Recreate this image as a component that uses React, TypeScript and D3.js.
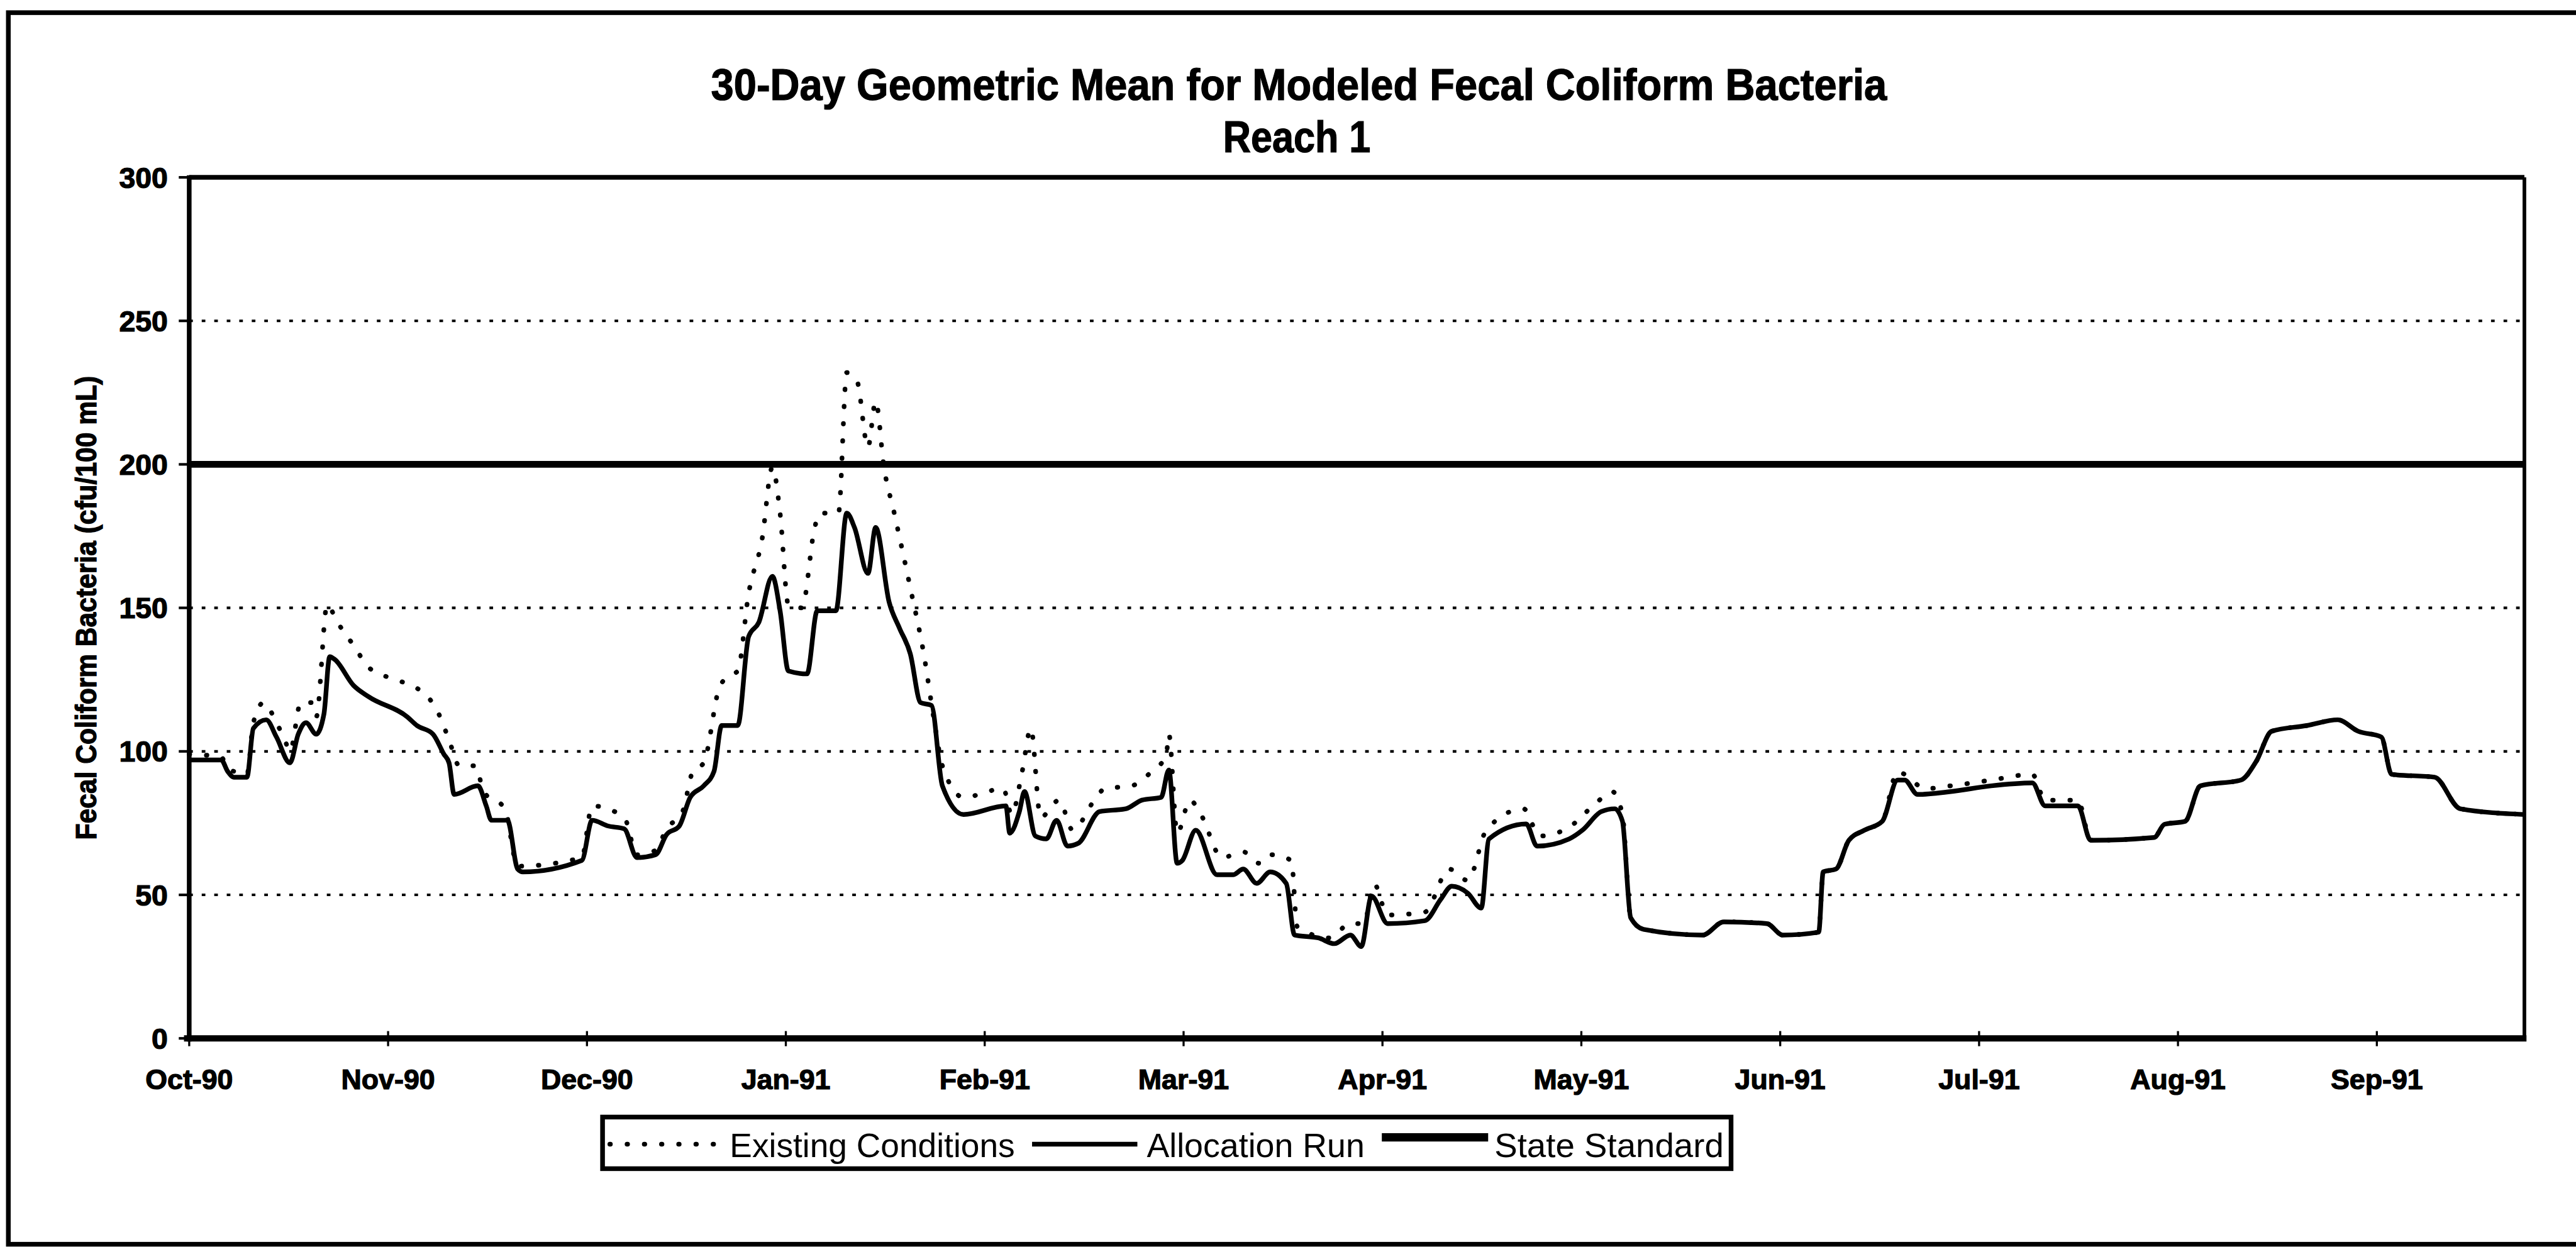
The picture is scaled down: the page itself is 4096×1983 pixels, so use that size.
import React from 'react'
import * as d3 from 'd3'

// x positions are days after 1 Oct 1990; the source axis puts a tick every 31 days
const startDate = new Date(1990, 9, 1)
const lastDay = 364
const tickDays = [0, 31, 62, 93, 124, 155, 186, 217, 248, 279, 310, 341]
const yTicks = [0, 50, 100, 150, 200, 250, 300]
const gridValues = [50, 100, 150, 250]
const standardValue = 200

const existingDays = [
  0, 5, 6, 7, 9, 10, 11.6, 13.6, 14.9, 15.7, 17.4, 19, 19.8, 21.5, 23.1, 25.6, 28.1, 32.2, 35.5, 37.2,
  38.8, 40.5, 42.1, 44.6, 45.9, 49.2, 51.2, 61.2, 62.8, 67.8, 69.8, 72.7, 74.4, 76.9, 78.5, 80.2, 82.6,
  83.9, 85.5, 87.2, 89.3, 90.9, 92.1, 93.4, 95.5, 97.5, 98.3, 101.2, 102.5, 104.1, 105.8, 107, 108.3,
  109.9, 112.4, 114.5, 116.1, 117.4, 120.7, 126.9, 128.2, 129.8, 131.2, 132.7, 135.6, 137.7, 141.1,
  142.7, 146.9, 149.8, 152.3, 152.7, 154, 156, 157.7, 161, 164.3, 166.8, 168.5, 171.8, 172.7, 177.7,
  181, 183.1, 184.7, 186.8, 192.6, 196.4, 199.3, 202.2, 208, 210.5, 215.1, 219.3, 221.8, 223.4, 224.7,
  226.7, 235.9, 239.2, 245.9, 248.4, 254, 254.7, 256.7, 258.7, 261.1, 263.9, 266.3, 267.4, 270.6,
  274.6, 280.9, 287.3, 289.3, 294.4, 296.4, 306.3, 307.9, 311.1, 313.5, 319.8, 322.2, 324.6, 330.1,
  334.9, 338.1, 341.7, 343.3, 350, 354, 364,
]
const existingValues = [
  99, 98, 94, 93, 92, 110, 117, 110, 104, 100, 117, 117, 112, 151, 145, 137, 129, 125, 122, 119,
  113.5, 104, 95, 95, 86, 80, 60, 63, 81, 77, 64, 65.5, 73, 79, 93, 96, 122,
  126, 128, 155, 174, 199, 183, 151, 150, 178, 183, 183, 232, 229, 206, 222, 199,
  183, 157, 134, 111, 95, 84, 87, 78, 92.5, 108, 77, 83, 72.6, 83,
  87, 88, 92.5, 98.7, 106, 71.5, 83, 78, 63, 65, 61, 64, 62, 39, 35,
  40, 40, 53.8, 43, 44, 59, 55, 72.6, 80, 70.5, 73.6, 82, 86, 78, 42,
  38, 36, 40.6, 40, 36, 37, 58, 59, 69, 72.5, 75.6, 93, 92, 87,
  88, 90, 92, 83, 83, 69, 70, 74.6, 75.6, 88, 90, 96.5, 107, 109,
  111, 107, 105, 92, 91, 80, 78,
]

const allocationDays = [
  0, 5, 6, 7, 9, 10, 12, 13.6, 15.7, 17, 18.2, 19.8, 21, 21.9, 22.7, 25.6, 28, 34, 35.5, 38, 39.7,
  40.5, 41.3, 45, 46.3, 47.1, 49.6, 51.2, 52, 61.2, 62.8, 65.3, 67.8, 69.8, 72.7, 74.4, 76.4, 78.1,
  80.2, 81.8, 83, 85.5, 87.2, 88.8, 90.9, 92.1, 93.4, 96.3, 97.9, 100.8, 102.5, 103.7, 105.8, 107,
  109.1, 110.7, 112.4, 114, 115.7, 117.4, 120.7, 127.3, 127.9, 129.4, 130.2, 131.9, 133.6, 135.2,
  136.9, 138.6, 141.9, 146, 148.5, 151.5, 152.7, 154, 154.8, 156.9, 160.2, 162.7, 164.3, 166.4, 168.5,
  171, 172.3, 176, 178.5, 181, 182.7, 184.3, 186.8, 192.6, 195.1, 196.8, 199.3, 201.4, 202.6, 208.4,
  210.1, 215.1, 217.2, 220.1, 222.2, 223.4, 224.7, 226.7, 235.9, 239.2, 245.9, 248.4, 254, 254.7,
  256.7, 258.7, 261.1, 263.9, 266.3, 267.4, 269.4, 274.6, 280.9, 287.3, 289.3, 294.4, 296.4, 306.3,
  307.9, 311.1, 313.5, 319.8, 322.2, 324.6, 330.1, 334.9, 338.1, 341.7, 343.3, 350, 354, 364,
]
const allocationValues = [
  97, 97, 93, 91, 91, 108, 111, 105, 96, 106, 110, 106, 113, 133, 132, 123, 119, 112, 109, 106, 99,
  96, 85, 88, 81, 76, 76, 59, 58, 62, 76, 74, 73, 63, 64, 71, 74, 84,
  88, 93, 109, 109, 140, 145, 161, 149, 128, 127, 149, 149, 183, 178, 162, 178,
  152, 143, 134, 117, 116, 88, 78, 81, 71.5, 79, 86, 70.5, 69.5, 76,
  67, 68, 79, 80, 83, 84, 93.5, 61, 62, 72.5, 57, 57, 59, 54, 58,
  54, 36, 35, 33, 36, 32, 49.6, 40, 41, 48.5, 53, 50.6, 45.4, 69.5, 74.7,
  67, 69.5, 72.6, 79, 80, 75.7, 42, 38, 36, 40.6, 40, 36, 37, 58,
  59, 69, 72.5, 75.6, 90, 90, 85, 86, 88, 89, 81, 81, 69, 70,
  74.6, 75.6, 88, 90, 96.5, 107, 109, 111, 107, 105, 92, 91, 80, 78,
]

const W = 4942
const H = 2392
const font = '"Liberation Sans", Arial, sans-serif'

export default function App() {
  const x = d3.scaleLinear().domain([0, lastDay]).range([363, 4843])
  const y = d3.scaleLinear().domain([0, 300]).range([1992, 340])
  const line = d3
    .line<[number, number]>()
    .x((d) => x(d[0]))
    .y((d) => y(d[1]))
    .curve(d3.curveMonotoneX)
  const flat = d3
    .line<[number, number]>()
    .x((d) => x(d[0]))
    .y((d) => y(d[1]))
  const fmt = d3.timeFormat('%b-%y')

  const existing = existingDays.map((d, i) => [d, existingValues[i]] as [number, number])
  const allocation = allocationDays.map((d, i) => [d, allocationValues[i]] as [number, number])
  const standard: [number, number][] = [
    [0, standardValue],
    [lastDay, standardValue],
  ]

  const [x0, x1] = x.range()

  return (
    <svg
      width={4096}
      height={1983}
      viewBox={`0 0 ${W} ${H}`}
      style={{ position: 'absolute', left: 0, top: 0, background: '#fff' }}
    >
      <rect x={0} y={0} width={W} height={H} fill="#fff" />
      {/* chart area border (right edge falls outside the scan) */}
      <rect x={16} y={24} width={W + 40} height={2363} fill="none" stroke="#000" strokeWidth={9} />

      {/* titles */}
      <text
        x={2492}
        y={192}
        textAnchor="middle"
        fontFamily={font}
        fontWeight="bold"
        fontSize={84}
        textLength={2256}
        lengthAdjust="spacingAndGlyphs"
        stroke="#000"
        strokeWidth={1.5}
      >
        30-Day Geometric Mean for Modeled Fecal Coliform Bacteria
      </text>
      <text
        x={2488}
        y={292}
        textAnchor="middle"
        fontFamily={font}
        fontWeight="bold"
        fontSize={84}
        textLength={283}
        lengthAdjust="spacingAndGlyphs"
        stroke="#000"
        strokeWidth={1.5}
      >
        Reach 1
      </text>

      {/* gridlines */}
      {gridValues.map((v) => (
        <line
          key={v}
          x1={x0}
          x2={x1}
          y1={y(v)}
          y2={y(v)}
          stroke="#000"
          strokeWidth={5}
          strokeDasharray="7 17"
        />
      ))}

      {/* plot frame */}
      <line x1={x0} x2={x1} y1={y(300)} y2={y(300)} stroke="#000" strokeWidth={9} />
      <line x1={x1} x2={x1} y1={y(300)} y2={y(0)} stroke="#000" strokeWidth={7} />

      {/* series */}
      <path
        d={line(existing) ?? ''}
        fill="none"
        stroke="#000"
        strokeWidth={9}
        strokeLinecap="round"
        strokeLinejoin="round"
        strokeDasharray="1 32"
      />
      <path d={line(allocation) ?? ''} fill="none" stroke="#000" strokeWidth={9} strokeLinejoin="round" />
      <path d={flat(standard) ?? ''} fill="none" stroke="#000" strokeWidth={13} />

      {/* y axis */}
      <line x1={x0} x2={x0} y1={y(300) - 4} y2={y(0) + 6} stroke="#000" strokeWidth={9} />
      {yTicks.map((v) => (
        <g key={v}>
          <line x1={x0 - 20} x2={x0} y1={y(v)} y2={y(v)} stroke="#000" strokeWidth={5} />
          <text
            x={322}
            y={y(v) + 20}
            textAnchor="end"
            fontFamily={font}
            fontWeight="bold"
            fontSize={56}
            stroke="#000"
            strokeWidth={1.5}
          >
            {v}
          </text>
        </g>
      ))}
      <text
        transform={`translate(185, ${(y(0) + y(300)) / 2}) rotate(-90)`}
        textAnchor="middle"
        fontFamily={font}
        fontWeight="bold"
        fontSize={56}
        textLength={890}
        lengthAdjust="spacingAndGlyphs"
        stroke="#000"
        strokeWidth={1.5}
      >
        Fecal Coliform Bacteria (cfu/100 mL)
      </text>

      {/* x axis */}
      <line x1={x0 - 10} x2={x1 + 4} y1={y(0)} y2={y(0)} stroke="#000" strokeWidth={12} />
      {tickDays.map((d) => (
        <g key={d}>
          <line x1={x(d)} x2={x(d)} y1={y(0) - 14} y2={y(0) + 15} stroke="#000" strokeWidth={4} />
          <text
            x={x(d)}
            y={2089}
            textAnchor="middle"
            fontFamily={font}
            fontWeight="bold"
            fontSize={54}
            stroke="#000"
            strokeWidth={1.5}
          >
            {fmt(d3.timeDay.offset(startDate, d))}
          </text>
        </g>
      ))}

      {/* legend */}
      <rect x={1156} y={2143} width={2165} height={99} fill="#fff" stroke="#000" strokeWidth={9} />
      <line
        x1={1170}
        x2={1386}
        y1={2195}
        y2={2195}
        stroke="#000"
        strokeWidth={9}
        strokeLinecap="round"
        strokeDasharray="1 32"
      />
      <text x={1400} y={2220} fontFamily={font} fontSize={64} textLength={547} lengthAdjust="spacingAndGlyphs">
        Existing Conditions
      </text>
      <line x1={1980} x2={2182} y1={2195} y2={2195} stroke="#000" strokeWidth={9} />
      <text x={2200} y={2220} fontFamily={font} fontSize={64} textLength={418} lengthAdjust="spacingAndGlyphs">
        Allocation Run
      </text>
      <line x1={2651} x2={2855} y1={2182} y2={2182} stroke="#000" strokeWidth={16} />
      <text x={2867} y={2220} fontFamily={font} fontSize={64} textLength={440} lengthAdjust="spacingAndGlyphs">
        State Standard
      </text>
    </svg>
  )
}
